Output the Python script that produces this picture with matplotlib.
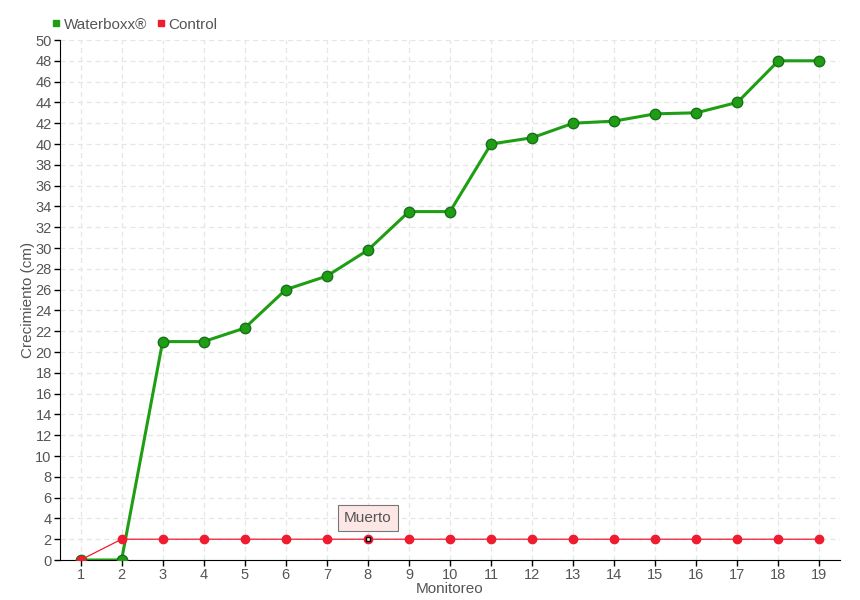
import matplotlib
matplotlib.use("Agg")
import matplotlib.pyplot as plt
from matplotlib.lines import Line2D

monitoreo = list(range(1, 20))
waterboxx = [0, 0, 21, 21, 22.3, 26, 27.3, 29.8, 33.5, 33.5, 40, 40.6, 42, 42.2, 42.9, 43, 44, 48, 48]
control = [0, 2, 2, 2, 2, 2, 2, 2, 2, 2, 2, 2, 2, 2, 2, 2, 2, 2, 2]
dead_index = 7  # monitoreo 8
dead_label = "Muerto"

plt.rcParams['font.family'] = ['Liberation Sans', 'DejaVu Sans']
txt = '#555555'

fig = plt.figure(figsize=(8.6, 6), dpi=100)
ax = fig.add_axes([60/860, 40/600, 780/860, 520/600])

green = '#1f9e14'
red = '#ee1c2e'

ax.plot(monitoreo, waterboxx, color=green, lw=2.2, zorder=4, solid_joinstyle='round')
ax.plot(monitoreo, waterboxx, 'o', color=green, ms=7.5, mec='#17701a', mew=1, zorder=4)

ax.plot(monitoreo, control, color=red, lw=0.9, zorder=5)
ax.plot(monitoreo, control, 'o', color=red, ms=6, mec=red, zorder=5)
ax.plot([monitoreo[dead_index]], [control[dead_index]], 's', color='white', ms=3.5,
        mec='black', mew=1, zorder=6)

ax.annotate(dead_label, xy=(monitoreo[dead_index], control[dead_index]),
            xytext=(0, 15), textcoords='offset points', ha='center', va='center',
            fontsize=11, color=txt,
            bbox=dict(boxstyle='square,pad=0.4', fc='#fde6e6', ec='#777777', lw=0.8),
            zorder=7)

ax.set_xlim(0.5, 19.5)
ax.set_ylim(0, 50)
ax.set_xticks(monitoreo)
ax.set_yticks(range(0, 51, 2))
ax.grid(True, ls=(0, (4, 3)), color='#e6e6e6', lw=0.9)
ax.set_axisbelow(True)
for s in ['top', 'right']:
    ax.spines[s].set_visible(False)
for s in ['left', 'bottom']:
    ax.spines[s].set_color('black')
ax.tick_params(colors=txt, labelsize=10.5, length=4, width=1, pad=2)
ax.tick_params(axis='both', color='black')
ax.set_xlabel('Monitoreo', color=txt, fontsize=11, labelpad=0)
ax.set_ylabel('Crecimiento (cm)', color=txt, fontsize=11, labelpad=0)

handles = [Line2D([], [], marker='s', ls='', color=green, ms=5),
           Line2D([], [], marker='s', ls='', color=red, ms=5)]
leg = fig.legend(handles, ['Waterboxx®', 'Control'], loc='upper left',
                 bbox_to_anchor=(44/860, 1 - 10/600), ncol=2, frameon=False,
                 fontsize=11, handlelength=0.6, handletextpad=0.2, columnspacing=0.6,
                 borderpad=0)
for t in leg.get_texts():
    t.set_color(txt)

fig.savefig('out.png', dpi=100)
